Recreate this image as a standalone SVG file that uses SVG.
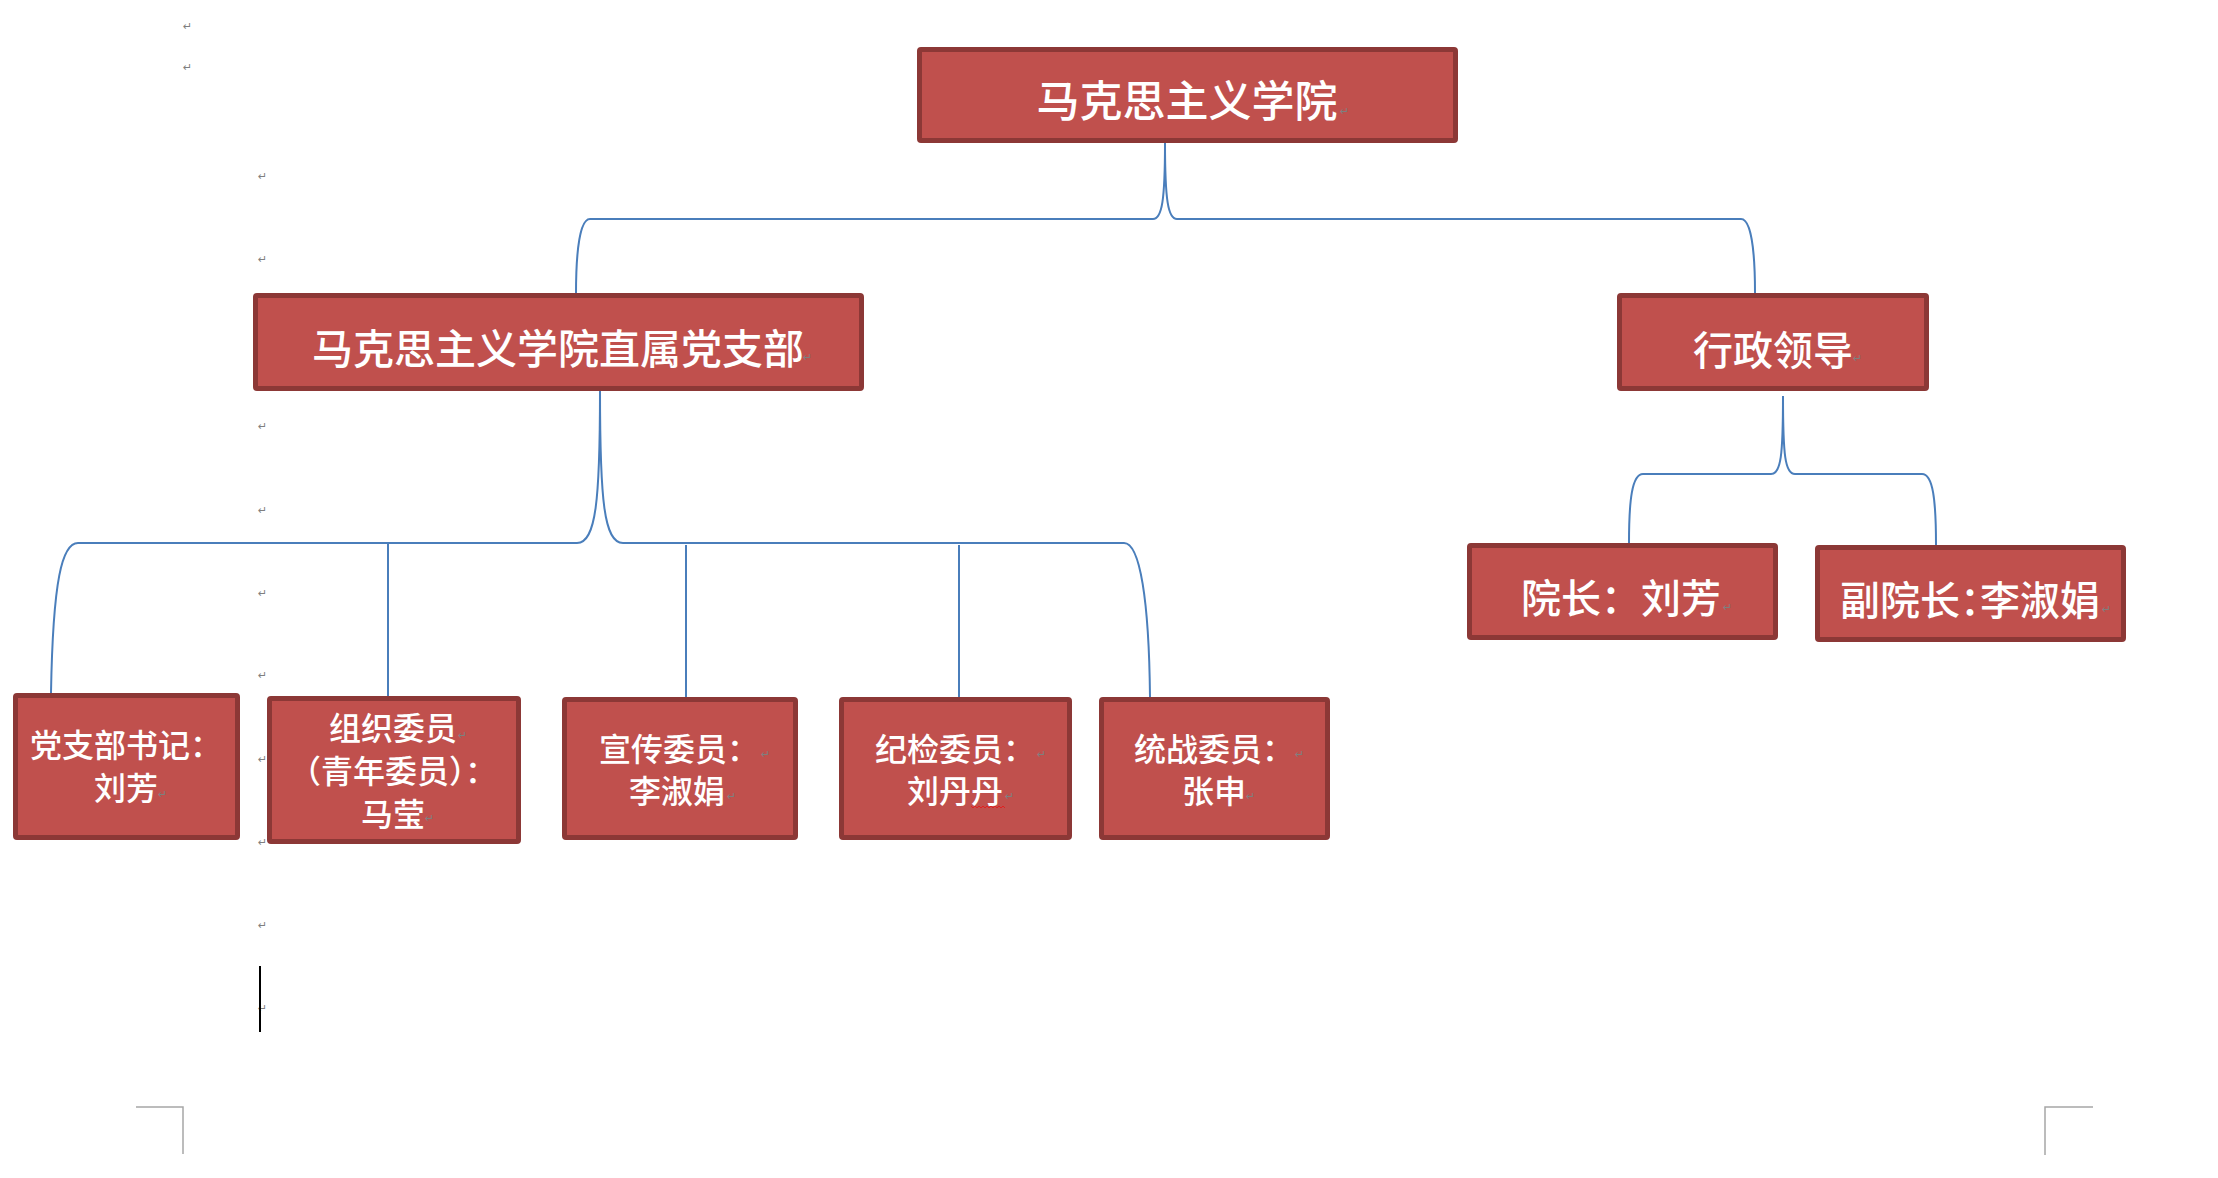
<svg xmlns="http://www.w3.org/2000/svg" width="2218" height="1178" viewBox="0 0 2218 1178">
<style>
.box{fill:#C0504D;stroke:#8C3836;stroke-width:5}
.t{fill:#FFFFFF;font-family:"Noto Sans CJK SC","Noto Sans CJK JP",sans-serif;font-weight:500;text-anchor:middle}
.big{font-size:41px}
.sm{font-size:32px}
.halt{font-feature-settings:"halt"}
.pm{fill:#7F7F7F;font-family:"DejaVu Sans",sans-serif;font-size:11px}
.con{fill:none;stroke:#4A7EBB;stroke-width:2}
.crn{fill:none;stroke:#A6A6A6;stroke-width:1.5}
</style>
<rect width="2218" height="1178" fill="#FFFFFF"/>

<g id="connectors">
<path class="con" d="M1165,143 C1165,200 1162,219 1153,219 L590,219 C580,219 576,250 576,294"/>
<path class="con" d="M1165,143 C1165,200 1168,219 1177,219 L1741,219 C1751,219 1755,250 1755,293"/>
<path class="con" d="M600,391 C600,500 596,543 577,543 L78,543 C62,543 53,580 51,693"/>
<path class="con" d="M600,391 C600,500 604,543 623,543 L1124,543 C1140,543 1149,600 1150,697"/>
<path class="con" d="M388,544 V696"/>
<path class="con" d="M686,545 V697"/>
<path class="con" d="M959,545 V697"/>
<path class="con" d="M1783,396 C1783,455 1781,474 1771,474 L1643,474 C1632,474 1629,500 1629,543"/>
<path class="con" d="M1783,396 C1783,455 1785,474 1795,474 L1922,474 C1933,474 1936,500 1936,545"/>
</g>

<g id="n-root">
<rect class="box" x="919.5" y="49.5" width="536" height="91" rx="1.5"/>
<text class="t" x="1187" y="117" style="font-size:43px">马克思主义学院</text>
<text class="pm" x="1340" y="115">↵</text>
</g>

<g id="n-branch">
<rect class="box" x="255.5" y="295.5" width="606" height="93" rx="1.5"/>
<text class="t big" x="558" y="364">马克思主义学院直属党支部</text>
<text class="pm" x="803" y="361">↵</text>
</g>

<g id="n-admin">
<rect class="box" x="1619.5" y="295.5" width="307" height="93" rx="1.5"/>
<text class="t" x="1773" y="365" style="font-size:40px">行政领导</text>
<text class="pm" x="1853" y="362">↵</text>
</g>

<g id="n-dean">
<rect class="box" x="1469.5" y="545.5" width="306" height="92" rx="1.5"/>
<text class="t" x="1621" y="613" style="font-size:40px">院长：刘芳</text>
<text class="pm" x="1723" y="611">↵</text>
</g>

<g id="n-vicedean">
<rect class="box" x="1817.5" y="547.5" width="306" height="92" rx="1.5"/>
<text class="t halt" x="1970" y="615" style="font-size:40px">副院长：李淑娟</text>
<text class="pm" x="2102" y="613">↵</text>
</g>

<g id="n-secretary">
<rect class="box" x="15.5" y="695.5" width="222" height="142" rx="1.5"/>
<text class="t sm" x="126" y="757">党支部书记：</text>
<text class="t sm" x="126" y="800">刘芳</text>
<text class="pm" x="158" y="798">↵</text>
</g>

<g id="n-organize">
<rect class="box" x="269.5" y="698.5" width="249" height="143" rx="1.5"/>
<text class="t sm" x="393" y="740">组织委员</text>
<text class="t sm halt" x="393" y="783">（青年委员）：</text>
<text class="t sm" x="393" y="826">马莹</text>
<text class="pm" x="458" y="739">↵</text>
<text class="pm" x="425" y="822">↵</text>
</g>

<g id="n-publicity">
<rect class="box" x="564.5" y="699.5" width="231" height="138" rx="1.5"/>
<text class="t sm" x="679" y="761">宣传委员：</text>
<text class="t sm" x="677" y="803">李淑娟</text>
<text class="pm" x="761" y="758">↵</text>
<text class="pm" x="727" y="800">↵</text>
</g>

<g id="n-discipline">
<rect class="box" x="841.5" y="699.5" width="228" height="138" rx="1.5"/>
<text class="t sm" x="955" y="761">纪检委员：</text>
<text class="t sm" x="955" y="803">刘丹丹</text>
<polyline fill="none" stroke="#E02020" stroke-width="1" points="971,806 973,808 975,806 977,808 979,806 981,808 983,806 985,808 987,806 989,808 991,806 993,808 995,806 997,808 999,806 1001,808 1003,806 1005,808"/>
<text class="pm" x="1037" y="758">↵</text>
<text class="pm" x="1005" y="800">↵</text>
</g>

<g id="n-unitedfront">
<rect class="box" x="1101.5" y="699.5" width="226" height="138" rx="1.5"/>
<text class="t sm" x="1214" y="761">统战委员：</text>
<text class="t sm" x="1214" y="803">张申</text>
<text class="pm" x="1295" y="758">↵</text>
<text class="pm" x="1246" y="800">↵</text>
</g>

<g id="marks">
<text class="pm" x="183" y="30">↵</text>
<text class="pm" x="183" y="71">↵</text>
<text class="pm" x="258" y="180">↵</text>
<text class="pm" x="258" y="263">↵</text>
<text class="pm" x="258" y="430">↵</text>
<text class="pm" x="258" y="514">↵</text>
<text class="pm" x="258" y="597">↵</text>
<text class="pm" x="258" y="679">↵</text>
<text class="pm" x="258" y="763">↵</text>
<text class="pm" x="258" y="846">↵</text>
<text class="pm" x="258" y="929">↵</text>
<text class="pm" x="258" y="1012">↵</text>
<line x1="260" y1="966" x2="260" y2="1032" stroke="#000000" stroke-width="2"/>
<path class="crn" d="M136,1107 H183 V1154"/>
<path class="crn" d="M2093,1107 H2045 V1155"/>
</g>
</svg>
